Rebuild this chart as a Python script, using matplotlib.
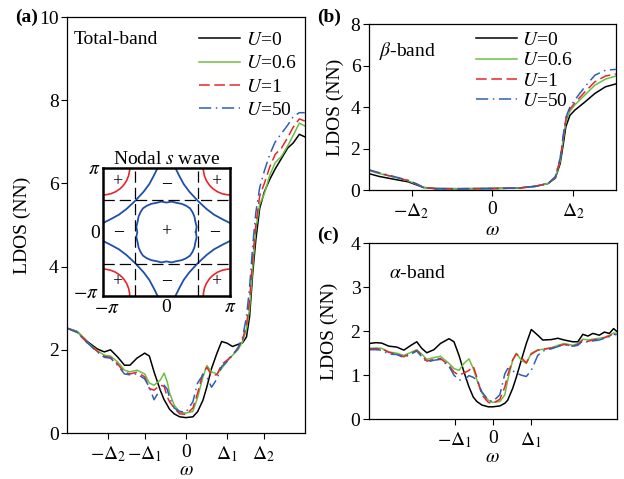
import numpy as np
import matplotlib
matplotlib.use("Agg")
import matplotlib.pyplot as plt
from matplotlib.patches import Circle
from matplotlib.transforms import ScaledTranslation

plt.rcParams['font.family'] = ['Liberation Serif', 'DejaVu Serif']
plt.rcParams['mathtext.fontset'] = 'stix'
plt.rcParams['font.size'] = 14

# ---------------- data ----------------
# panel (a): total band, omega in units of Delta_2
wa = [-1.53, -1.40, -1.27, -1.14, -1.05, -0.97, -0.88, -0.79, -0.72, -0.63,
      -0.53, -0.47, -0.41, -0.33, -0.28, -0.24, -0.21, -0.15, -0.08, 0.0,
      0.09, 0.15, 0.22, 0.27, 0.33, 0.40, 0.46, 0.53, 0.60, 0.67,
      0.73, 0.78, 0.82, 0.86, 0.90, 0.95, 1.01, 1.08, 1.15, 1.23,
      1.31, 1.38, 1.46, 1.53]
a_u0 = [2.52, 2.44, 2.20, 2.02, 1.95, 2.00, 1.83, 1.63, 1.63, 1.80,
        1.92, 1.85, 1.47, 1.03, 0.80, 0.67, 0.57, 0.46, 0.39, 0.37,
        0.39, 0.51, 0.79, 1.11, 1.55, 1.92, 2.20, 2.16, 2.08, 2.13,
        2.17, 2.31, 2.80, 3.84, 4.64, 5.40, 5.80, 6.10, 6.35, 6.60,
        6.85, 6.97, 7.18, 7.12]
a_u06 = [2.52, 2.44, 2.18, 1.98, 1.87, 1.85, 1.71, 1.51, 1.47, 1.51,
         1.42, 1.20, 1.15, 1.27, 1.44, 1.23, 0.96, 0.67, 0.50, 0.48,
         0.52, 0.85, 1.35, 1.62, 1.47, 1.42, 1.55, 1.72, 1.87, 2.00,
         2.20, 2.50, 3.00, 4.00, 4.90, 5.50, 5.75, 6.20, 6.50, 6.65,
         6.90, 7.15, 7.45, 7.38]
a_u1 = [2.52, 2.42, 2.17, 1.96, 1.84, 1.82, 1.66, 1.46, 1.42, 1.46,
        1.35, 1.07, 1.03, 1.15, 1.12, 0.87, 0.75, 0.60, 0.46, 0.45,
        0.60, 0.95, 1.45, 1.58, 1.39, 1.40, 1.65, 1.75, 1.88, 2.03,
        2.25, 2.60, 3.20, 4.20, 5.00, 5.70, 6.00, 6.40, 6.70, 6.85,
        7.10, 7.35, 7.55, 7.50]
a_u50 = [2.52, 2.42, 2.17, 1.95, 1.82, 1.80, 1.63, 1.42, 1.40, 1.42,
         1.30, 1.10, 0.80, 1.05, 1.15, 1.05, 0.85, 0.60, 0.52, 0.50,
         0.75, 1.20, 1.40, 1.35, 1.10, 1.30, 1.60, 1.72, 1.87, 2.05,
         2.30, 2.80, 3.50, 4.50, 5.30, 5.90, 6.30, 6.70, 7.00, 7.20,
         7.40, 7.60, 7.70, 7.70]

# panel (b): beta band
wb = [-1.53, -1.40, -1.21, -1.04, -0.93, -0.85, -0.70, -0.41, 0.0, 0.32,
      0.53, 0.69, 0.78, 0.84, 0.88, 0.91, 0.96, 1.02, 1.15, 1.27,
      1.40, 1.53]
b_u0 = [0.80, 0.66, 0.52, 0.40, 0.24, 0.13, 0.08, 0.07, 0.08, 0.10,
        0.19, 0.32, 0.58, 1.28, 2.25, 3.05, 3.60, 3.85, 4.26, 4.66,
        4.98, 5.12]
b_u06 = [0.95, 0.80, 0.62, 0.45, 0.27, 0.12, 0.07, 0.07, 0.08, 0.10,
         0.18, 0.32, 0.60, 1.40, 2.50, 3.30, 3.80, 4.10, 4.60, 5.06,
         5.35, 5.50]
b_u1 = [0.98, 0.82, 0.63, 0.46, 0.28, 0.12, 0.07, 0.07, 0.08, 0.10,
        0.18, 0.32, 0.62, 1.50, 2.60, 3.40, 3.90, 4.20, 4.75, 5.22,
        5.50, 5.60]
b_u50 = [0.98, 0.84, 0.65, 0.47, 0.29, 0.12, 0.07, 0.07, 0.08, 0.10,
         0.18, 0.32, 0.65, 1.55, 2.70, 3.50, 4.00, 4.34, 5.00, 5.54,
         5.78, 5.82]

# panel (c): alpha band
wc = [-1.73, -1.63, -1.55, -1.45, -1.34, -1.24, -1.14, -1.06, -0.99, -0.92,
      -0.82, -0.73, -0.61, -0.54, -0.47, -0.40, -0.33, -0.27, -0.22, -0.15,
      -0.06, 0.0, 0.10, 0.17, 0.21, 0.28, 0.33, 0.40, 0.47, 0.54,
      0.63, 0.70, 0.82, 0.91, 1.00, 1.12, 1.19, 1.26, 1.33, 1.40,
      1.49, 1.56, 1.63, 1.69, 1.73]
c_u0 = [1.72, 1.74, 1.73, 1.66, 1.64, 1.57, 1.68, 1.76, 1.61, 1.51,
        1.58, 1.72, 1.83, 1.76, 1.45, 1.07, 0.73, 0.50, 0.40, 0.32,
        0.28, 0.28, 0.30, 0.36, 0.43, 0.70, 0.95, 1.34, 1.72, 2.04,
        1.91, 1.80, 1.81, 1.84, 1.80, 1.76, 1.76, 1.93, 1.89, 1.95,
        1.91, 1.98, 1.95, 2.06, 2.00]
c_u06 = [1.61, 1.62, 1.61, 1.53, 1.50, 1.45, 1.52, 1.58, 1.48, 1.36,
         1.40, 1.43, 1.27, 1.15, 1.11, 1.27, 1.37, 1.15, 0.89, 0.59,
         0.43, 0.38, 0.40, 0.55, 0.89, 1.34, 1.50, 1.34, 1.27, 1.50,
         1.57, 1.59, 1.62, 1.68, 1.72, 1.68, 1.72, 1.82, 1.80, 1.82,
         1.84, 1.86, 1.91, 1.96, 1.95]
c_u1 = [1.60, 1.60, 1.60, 1.52, 1.48, 1.42, 1.50, 1.56, 1.45, 1.32,
        1.36, 1.38, 1.23, 1.07, 1.00, 1.05, 1.11, 1.20, 0.95, 0.55,
        0.38, 0.36, 0.45, 0.73, 1.00, 1.35, 1.48, 1.40, 1.28, 1.48,
        1.57, 1.59, 1.62, 1.66, 1.70, 1.66, 1.70, 1.80, 1.77, 1.80,
        1.82, 1.85, 1.89, 1.95, 1.93]
c_u50 = [1.58, 1.58, 1.57, 1.48, 1.47, 1.40, 1.48, 1.55, 1.42, 1.30,
         1.34, 1.36, 1.20, 1.00, 0.89, 0.89, 0.99, 0.95, 0.89, 0.62,
         0.43, 0.40, 0.55, 1.03, 1.15, 1.10, 1.05, 1.00, 0.97, 1.11,
         1.45, 1.55, 1.60, 1.65, 1.70, 1.66, 1.68, 1.78, 1.75, 1.78,
         1.80, 1.84, 1.88, 1.93, 1.92]

labels = [r'$U$=0', r'$U$=0.6', r'$U$=1', r'$U$=50']
D1, D2 = 0.53, 1.0

# inset: Fermi surface pieces (units of pi), one quadrant, mirrored
outer_x = [-0.14, -0.20, -0.27, -0.36, -0.49, -0.63, -0.75, -0.88, -1.0]
outer_y = [1.0, 0.88, 0.75, 0.63, 0.49, 0.36, 0.27, 0.20, 0.14]
inner_x = [0.46, 0.475, 0.455, 0.44, 0.41, 0.37]
inner_y = [0.0, 0.08, 0.16, 0.24, 0.31, 0.37]
pocket_r = 0.42

# ---------------- styles ----------------
cols = ['black', '#6cbf45', '#e8262a', '#2f5fb3']
styles = [dict(ls='-'), dict(ls='-'), dict(dashes=(7, 3)),
          dict(dashes=(8, 3, 1, 3))]

fig = plt.figure(figsize=(6.24, 4.79), dpi=100)
ax_a = fig.add_axes([0.1074, 0.096, 0.381, 0.8685])
ax_b = fig.add_axes([0.591, 0.603, 0.396, 0.3466])
ax_c = fig.add_axes([0.591, 0.125, 0.397, 0.367])


def draw(ax, w, ys):
    for y, c, st in zip(ys, cols, styles):
        ax.plot(w, y, color=c, lw=1.1, **st)


draw(ax_a, wa, [a_u0, a_u06, a_u1, a_u50])
draw(ax_b, wb, [b_u0, b_u06, b_u1, b_u50])
draw(ax_c, wc, [c_u0, c_u06, c_u1, c_u50])

for ax in (ax_a, ax_b, ax_c):
    ax.tick_params(direction='out', length=4, width=0.8, labelsize=14, pad=2)
    ax.tick_params(axis='x', pad=4)
    for s in ax.spines.values():
        s.set_linewidth(0.9)

ax_a.set_xlabel(r'$\omega$', fontsize=14, labelpad=-1)
ax_a.set_ylabel('LDOS (NN)', fontsize=14, labelpad=6)
ax_b.set_xlabel(r'$\omega$', fontsize=14, labelpad=1)
ax_b.set_ylabel('LDOS (NN)', fontsize=14, labelpad=5)
ax_c.set_xlabel(r'$\omega$', fontsize=14, labelpad=-1)
ax_c.set_ylabel('LDOS (NN)', fontsize=14, labelpad=9)

ax_a.set_xlim(-1.53, 1.53)
ax_a.set_ylim(0, 10)
ax_a.set_yticks([0, 2, 4, 6, 8, 10])
ax_a.set_xticks([-D2, -D1, 0, D1, D2])
ax_a.set_xticklabels([r'$-\Delta_2$', r'$-\Delta_1$', '0', r'$\Delta_1$', r'$\Delta_2$'])
fig.text(15 / 624, 1 - 17 / 479, '(a)', fontweight='bold', fontsize=14, ha='left', va='center')
ax_a.text(0.03, 0.945, 'Total-band', transform=ax_a.transAxes, ha='left', va='center', fontsize=14)
ax_a.legend(labels, loc='upper left', bbox_to_anchor=(0.49, 1.003), frameon=False,
            fontsize=14, handlelength=2.1, handletextpad=0.3, labelspacing=0.3,
            borderpad=0.3)

ax_b.set_xlim(-1.53, 1.53)
ax_b.set_ylim(0, 8)
ax_b.set_yticks([0, 2, 4, 6, 8])
ax_b.set_xticks([-D2, 0, D2])
ax_b.set_xticklabels([r'$-\Delta_2$', '0', r'$\Delta_2$'])
ax_b.text(0.04, 0.84, r'$\beta$-band', transform=ax_b.transAxes, ha='left', va='center', fontsize=14)
ax_b.legend(labels, loc='upper left', bbox_to_anchor=(0.37, 1.05), frameon=False,
            fontsize=14, handlelength=2.1, handletextpad=0.3, labelspacing=0.14,
            borderpad=0.3)

ax_c.set_xlim(-1.73, 1.73)
ax_c.set_ylim(0, 4)
ax_c.set_yticks([0, 1, 2, 3, 4])
ax_c.set_xticks([-D1, 0, D1])
ax_c.set_xticklabels([r'$-\Delta_1$', '0', r'$\Delta_1$'])
ax_c.text(0.08, 0.83, r'$\alpha$-band', transform=ax_c.transAxes, ha='left', va='center', fontsize=14)

fig.text(317 / 624, 1 - 17 / 479, '(b)', fontweight='bold', fontsize=14, ha='left', va='center')
fig.text(317 / 624, 1 - 235 / 479, '(c)', fontweight='bold', fontsize=14, ha='left', va='center')

# inset
ins = fig.add_axes([103 / 624, 1 - 296 / 479, 127 / 624, 128 / 479])
ins.set_xlim(-np.pi, np.pi)
ins.set_ylim(-np.pi, np.pi)
for s in ins.spines.values():
    s.set_linewidth(1.8)
ins.set_xticks([-np.pi, 0, np.pi])
ins.set_yticks([-np.pi, 0, np.pi])
ins.set_xticklabels([r'$-\pi$', '0', r'$\pi$'])
ins.set_yticklabels([r'$-\pi$', '0', r'$\pi$'])
ins.tick_params(length=0, labelsize=14, pad=2)
ins.set_title(r'Nodal $s$ wave', fontsize=14, pad=2)
# nudge the two -pi labels apart, as in the original
xl = ins.get_xticklabels()[0]
xl.set_transform(xl.get_transform() + ScaledTranslation(4 / 100, -1 / 100, fig.dpi_scale_trans))
yl = ins.get_yticklabels()[0]
yl.set_transform(yl.get_transform() + ScaledTranslation(-1 / 100, 4 / 100, fig.dpi_scale_trans))

ox = np.array(outer_x) * np.pi
oy = np.array(outer_y) * np.pi
for sx in (1, -1):
    for sy in (1, -1):
        ins.plot(sx * ox, sy * oy, color='#1f4fa8', lw=1.3)
ix = np.array(inner_x) * np.pi
iy = np.array(inner_y) * np.pi
# build full inner loop from first octant by symmetry
qx = np.concatenate([ix, iy[::-1]])
qy = np.concatenate([iy, ix[::-1]])
lx = np.concatenate([qx, -qx[::-1], -qx, qx[::-1]])
ly = np.concatenate([qy, qy[::-1], -qy, -qy[::-1]])
ins.plot(lx, ly, color='#1f4fa8', lw=1.3)
for cx in (-np.pi, np.pi):
    for cy in (-np.pi, np.pi):
        ins.add_patch(Circle((cx, cy), pocket_r * np.pi, fill=False, color='#e8262a', lw=1.2))
for v in (-np.pi / 2, np.pi / 2):
    ins.axvline(v, color='black', lw=0.9, dashes=(9, 4))
    ins.axhline(v, color='black', lw=0.9, dashes=(9, 4))
for px, py, t in [(-0.78, 0.78, '+'), (0.78, 0.78, '+'), (-0.78, -0.78, '+'),
                  (0.78, -0.78, '+'), (0, 0, '+'), (0, 0.76, '\u2013'),
                  (0, -0.76, '\u2013'), (-0.76, 0, '\u2013'), (0.76, 0, '\u2013')]:
    ins.text(px * np.pi, py * np.pi, t, ha='center', va='center', fontsize=13,
             fontweight='bold' if t != '+' else 'normal')

fig.savefig('out.png', dpi=100)
